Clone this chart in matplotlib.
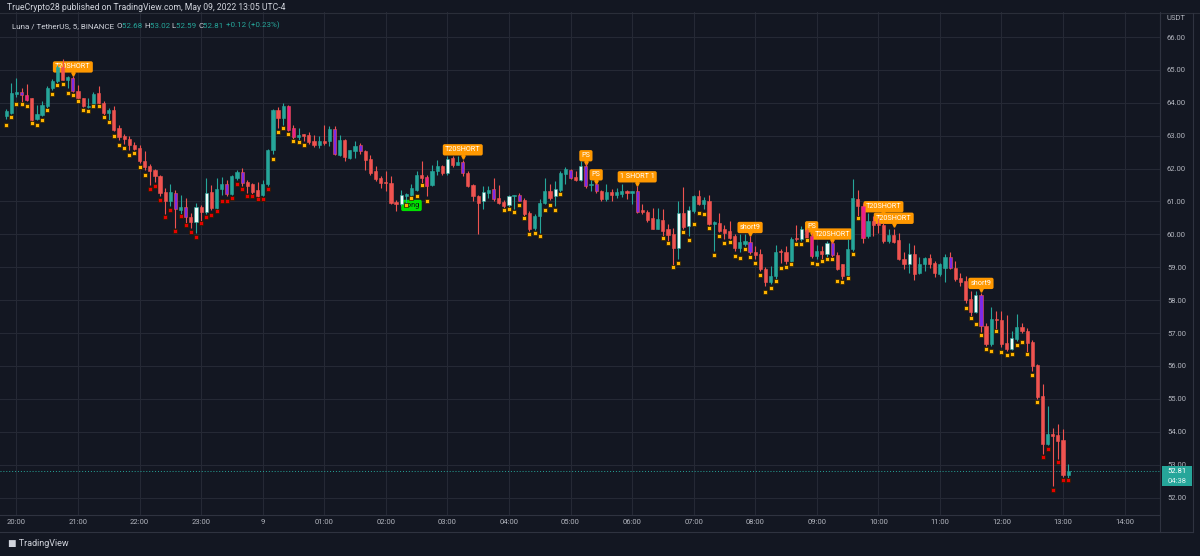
import matplotlib
matplotlib.use("Agg")
import matplotlib.pyplot as plt
from matplotlib.patches import Rectangle
from matplotlib.lines import Line2D
from matplotlib.transforms import offset_copy

plt.rcParams['font.family'] = ['Roboto', 'DejaVu Sans']

# 5-minute bars, index 0 = 20:00 (May 8), first bar is 19:50
first_bar = -2

opens = [63.59, 63.69, 64.26, 64.34, 64.24, 64.14, 63.52, 63.64, 63.89, 64.45, 64.65, 65.10,
         64.70, 64.75, 64.36, 64.14, 63.86, 63.94, 64.29, 63.99, 63.69, 63.79, 63.23, 62.98,
         62.91, 62.73, 62.63, 62.24, 62.07, 61.97, 61.77, 61.28, 61.01, 61.26, 60.73, 60.84,
         60.53, 60.37, 60.83, 60.69, 61.28, 60.81, 61.39, 61.54, 61.24, 61.72, 61.89, 61.60,
         61.52, 61.36, 61.19, 61.52, 62.58, 63.79, 63.54, 63.89, 63.23, 62.95, 63.06, 63.01,
         62.85, 62.73, 62.85, 62.83, 63.21, 62.42, 62.88, 62.32, 62.52, 62.71, 62.52, 62.30,
         61.94, 61.72, 61.60, 61.57, 60.99, 60.91, 61.16, 61.21, 61.36, 61.80, 61.74, 61.49,
         61.92, 62.07, 61.87, 62.32, 62.12, 62.20, 61.87, 61.49, 61.18, 61.01, 61.26, 61.39,
         61.11, 60.98, 60.88, 61.16, 61.21, 61.06, 60.66, 60.18, 60.56, 60.96, 61.33, 61.16,
         61.36, 61.85, 61.97, 61.74, 61.65, 62.07, 61.49, 61.52, 61.31, 61.08, 61.28, 61.21,
         61.24, 61.31, 61.26, 61.31, 60.73, 60.68, 60.50, 60.17, 60.45, 60.15, 60.02, 59.58,
         60.66, 60.25, 60.71, 61.16, 60.93, 61.03, 60.32, 60.35, 60.15, 60.10, 59.95, 59.58,
         59.72, 59.76, 59.45, 59.39, 58.96, 58.54, 58.72, 59.50, 59.45, 59.19, 59.90, 59.85,
         60.13, 59.95, 59.34, 59.50, 59.39, 59.73, 59.36, 59.09, 58.76, 59.55, 61.08, 60.86,
         59.95, 60.40, 60.34, 60.30, 59.80, 59.97, 59.83, 59.26, 59.09, 59.39, 58.82, 59.09,
         59.29, 59.14, 58.79, 58.99, 59.32, 58.99, 58.66, 58.59, 58.03, 57.65, 58.15, 57.23,
         56.67, 57.42, 57.40, 56.70, 56.52, 56.82, 57.17, 57.07, 56.74, 56.03, 55.10, 53.64,
         53.94, 53.89, 53.74, 52.68]

highs = [63.80, 64.60, 64.75, 64.44, 64.57, 64.16, 63.94, 64.04, 64.50, 64.73, 65.15, 65.33,
         64.80, 64.80, 64.54, 64.16, 64.14, 64.34, 64.50, 64.04, 63.84, 63.89, 63.31, 63.05,
         62.98, 62.80, 62.73, 62.52, 62.13, 62.00, 61.82, 61.41, 61.52, 61.36, 61.21, 61.11,
         60.65, 60.96, 60.90, 61.72, 61.49, 61.72, 61.74, 61.64, 61.82, 61.97, 62.01, 61.64,
         61.57, 61.59, 61.64, 62.61, 63.82, 63.86, 63.99, 63.94, 63.31, 63.23, 63.06, 63.11,
         63.01, 62.98, 63.31, 63.28, 63.28, 63.03, 62.91, 62.58, 62.85, 62.78, 62.55, 62.42,
         62.07, 61.77, 61.94, 61.77, 61.06, 61.36, 61.26, 61.52, 61.92, 62.24, 61.82, 62.12,
         62.27, 62.12, 62.38, 62.38, 62.38, 62.27, 61.92, 61.54, 61.21, 61.46, 61.46, 61.72,
         61.49, 61.06, 61.21, 61.21, 61.26, 61.11, 60.71, 60.61, 61.09, 61.72, 61.52, 61.62,
         61.92, 62.05, 62.00, 61.92, 62.22, 62.17, 61.64, 61.57, 61.36, 61.52, 61.38, 61.41,
         61.54, 61.36, 61.33, 61.46, 60.91, 60.73, 60.81, 60.81, 60.76, 60.32, 60.20, 61.01,
         61.45, 60.86, 61.21, 61.36, 61.13, 61.21, 60.42, 60.66, 60.30, 60.40, 60.00, 60.02,
         60.02, 59.95, 59.65, 59.55, 59.00, 59.04, 59.67, 59.57, 59.65, 59.92, 60.30, 60.25,
         60.20, 60.05, 59.67, 59.65, 59.80, 59.80, 59.45, 59.11, 59.85, 61.69, 61.36, 60.95,
         60.66, 60.55, 60.50, 60.36, 60.15, 60.17, 60.03, 59.45, 59.73, 59.67, 59.32, 59.32,
         59.39, 59.20, 59.12, 59.40, 59.45, 59.20, 58.82, 58.72, 58.28, 58.28, 58.23, 57.30,
         57.78, 57.68, 57.68, 57.55, 57.07, 57.58, 57.32, 57.15, 56.78, 56.06, 55.45, 54.79,
         54.11, 54.24, 54.09, 53.02]

lows = [63.50, 63.66, 64.19, 63.90, 64.04, 63.38, 63.48, 63.59, 63.84, 64.40, 64.60, 64.68,
        64.45, 64.33, 64.00, 63.86, 63.83, 63.89, 63.96, 63.64, 63.48, 63.13, 62.88, 62.75,
        62.55, 62.55, 62.17, 61.97, 61.49, 61.60, 61.16, 60.63, 60.86, 60.20, 60.61, 60.35,
        60.20, 60.05, 60.40, 60.61, 60.74, 60.74, 61.21, 61.16, 61.21, 61.64, 61.46, 61.26,
        61.23, 61.11, 61.16, 61.46, 62.45, 63.23, 63.33, 63.13, 62.91, 62.88, 62.85, 62.76,
        62.67, 62.63, 62.71, 62.68, 62.40, 62.38, 62.22, 62.29, 62.32, 62.45, 61.97, 61.82,
        61.62, 61.41, 61.31, 60.91, 60.71, 60.86, 60.86, 61.16, 61.31, 61.57, 61.16, 61.46,
        61.82, 61.82, 61.82, 62.05, 62.10, 61.77, 61.43, 61.01, 60.02, 60.76, 61.11, 61.01,
        60.91, 60.81, 60.81, 60.76, 61.00, 60.56, 60.10, 60.12, 60.05, 60.91, 61.06, 60.86,
        61.26, 61.52, 61.67, 61.62, 61.62, 61.41, 61.31, 61.26, 61.01, 61.01, 61.01, 61.12,
        61.15, 61.08, 60.91, 60.64, 60.61, 60.39, 60.15, 60.15, 59.85, 59.72, 59.07, 59.24,
        60.15, 59.95, 60.66, 60.89, 60.76, 60.28, 59.50, 60.08, 59.85, 59.85, 59.50, 59.45,
        59.65, 59.39, 59.24, 58.89, 58.43, 58.48, 58.64, 59.12, 59.09, 59.15, 59.80, 59.80,
        59.80, 59.29, 59.24, 59.19, 59.27, 59.29, 58.91, 58.64, 58.72, 59.50, 60.45, 59.75,
        59.90, 59.95, 60.05, 59.73, 59.73, 59.73, 59.22, 58.96, 58.84, 58.61, 58.79, 58.89,
        58.99, 58.69, 58.73, 58.56, 58.94, 58.58, 58.43, 57.91, 57.52, 57.61, 57.02, 56.60,
        56.60, 57.02, 56.57, 56.46, 56.48, 56.77, 57.00, 56.41, 55.86, 55.00, 53.33, 53.61,
        52.35, 53.18, 52.63, 52.59]

closes = [63.74, 64.29, 64.32, 64.24, 64.09, 63.48, 63.66, 63.94, 64.45, 64.65, 65.10, 64.70,
          64.77, 64.36, 64.14, 63.89, 63.89, 64.26, 63.99, 63.69, 63.79, 63.18, 62.95, 62.91,
          62.71, 62.61, 62.24, 62.04, 61.94, 61.77, 61.26, 61.01, 61.28, 60.78, 60.83, 60.54,
          60.37, 60.83, 60.69, 61.26, 60.81, 61.39, 61.54, 61.23, 61.77, 61.89, 61.57, 61.46,
          61.29, 61.16, 61.54, 62.58, 63.79, 63.54, 63.89, 63.18, 62.95, 63.01, 62.98, 62.81,
          62.73, 62.83, 62.78, 63.21, 62.45, 62.88, 62.35, 62.55, 62.68, 62.52, 62.27, 61.87,
          61.67, 61.57, 61.57, 60.96, 60.93, 61.19, 61.23, 61.41, 61.80, 61.70, 61.46, 61.94,
          62.07, 61.87, 62.30, 62.10, 62.19, 61.87, 61.46, 61.16, 60.96, 61.29, 61.36, 61.08,
          60.96, 60.86, 61.16, 61.21, 61.03, 60.61, 60.15, 60.56, 60.96, 61.33, 61.11, 61.38,
          61.87, 62.00, 61.72, 61.65, 62.07, 61.46, 61.54, 61.31, 61.08, 61.28, 61.21, 61.28,
          61.31, 61.26, 61.31, 60.68, 60.68, 60.45, 60.17, 60.47, 60.10, 59.98, 59.58, 60.66,
          60.22, 60.73, 61.16, 60.93, 61.06, 60.32, 60.37, 60.10, 60.05, 59.90, 59.58, 59.76,
          59.80, 59.45, 59.37, 58.94, 58.54, 58.74, 59.47, 59.45, 59.19, 59.87, 59.85, 60.15,
          59.90, 59.34, 59.50, 59.39, 59.73, 59.36, 58.96, 58.72, 59.55, 61.11, 60.86, 59.90,
          60.40, 60.30, 60.29, 59.80, 59.98, 59.77, 59.24, 59.09, 59.39, 58.79, 59.09, 59.29,
          59.09, 58.82, 59.09, 59.32, 58.99, 58.64, 58.56, 58.01, 57.63, 58.15, 57.20, 56.67,
          57.42, 57.39, 56.67, 56.52, 56.84, 57.17, 57.05, 56.70, 56.01, 55.05, 53.64, 53.94,
          53.87, 53.71, 52.69, 52.81]

# bar indices whose body is painted by the indicator instead of up/down colour
white_bars = [35, 37, 75, 84, 91, 96, 105, 110, 129, 131, 153, 158, 174, 187, 194]
purple_bars = [1, 11, 31, 33, 41, 44, 62, 67, 87, 93, 98, 108, 111, 113, 121, 143, 159,
               182, 188]
magenta_bars = [2, 53, 54, 80, 155, 165]

# square dots under the bars: y = yellow, r = red, . = none
dot_kind = ("y" * 28 + "r" * 24 + "y" * 7 + "." * 19 + "y" * 5 + "." * 14 + "y" * 12
            + "." * 19 + "y" * 39 + "." * 20 + "y" * 15 + "r" * 6)
dot_level = ([63.33, 63.58, 63.96, 63.96, 63.89, 63.40, 63.33, 63.47, 63.79, 64.26, 64.55,
              64.57, 64.31, 64.24, 64.04, 63.77, 63.74, 63.89, 63.89, 63.58, 63.43, 63.00,
              62.73, 62.63, 62.42, 62.48, 62.05, 61.82]
             + [61.38, 61.48, 61.06, 60.53, 60.74, 60.10, 60.55, 60.30, 60.07, 59.93, 60.34,
                60.53, 60.58, 60.71, 61.01, 61.01, 61.11, 61.52, 61.39, 61.16, 61.18, 61.08,
                61.09, 61.38]
             + [62.30, 63.11, 63.23, 63.06, 62.85, 62.80, 62.71]
             + [None] * 19
             + [60.88, 61.12, 61.18, 61.49, 61.01]
             + [None] * 14
             + [60.74, 60.76, 60.67, 60.88, 60.49, 60.00, 60.03, 59.95, 60.74, 60.89, 60.74,
                61.24]
             + [None] * 19
             + [59.88, 59.73, 59.01, 59.12, 60.07, 59.82, 60.32, 60.64, 60.61, 60.18, 59.37,
                59.95, 59.73, 59.76, 59.34, 59.27, 59.55, 59.32, 59.12, 58.77, 58.26, 58.36,
                58.57, 58.99, 59.02, 59.09, 59.70, 59.70, 59.82, 59.12, 59.09, 59.18, 59.26,
                59.26, 58.57, 58.55, 58.66, 59.39, 60.50]
             + [None] * 20
             + [57.75, 57.45, 57.27, 56.94, 56.53, 56.46, 57.07, 56.44, 56.33, 56.36, 56.65,
                56.74, 56.35, 55.73, 54.92]
             + [53.23, 53.48, 52.24, 53.08, 52.53, 52.53])

# signal labels: bar index, centre price, text
label_bars = [11, 87, 77, 111, 113, 121, 143, 155, 159, 169, 171, 188]
label_levels = [65.09, 62.57, 60.88, 62.39, 61.81, 61.75, 60.21, 60.23, 60.01, 60.84, 60.49, 58.51]
label_texts = ['T20SHORT', 'T20SHORT', 'Long', 'PS', 'PS', '1 SHORT 1', 'short9', 'PS',
               'T20SHORT', 'T20SHORT', 'T20SHORT', 'short9']

time_ticks = list(range(0, 217, 12))
time_labels = ['20:00', '21:00', '22:00', '23:00', '9', '01:00', '02:00', '03:00', '04:00',
               '05:00', '06:00', '07:00', '08:00', '09:00', '10:00', '11:00', '12:00',
               '13:00', '14:00']
price_ticks = list(range(52, 67))

BG = '#131722'
GRID = '#252935'
TXT = '#b2b5be'
UP = '#26a69a'
DOWN = '#ef5350'
YELLOW = '#ffb300'
RED = '#e60000'
ORANGE = '#ff9800'
GREEN = '#00e000'

fig = plt.figure(figsize=(12, 5.56), dpi=100, facecolor=BG)
ax = fig.add_axes([0, 41 / 556, 1160 / 1200, 503 / 556])
ax.set_facecolor(BG)

xs = list(range(first_bar, first_bar + len(opens)))
wick_cols, faces, bottoms, heights = [], [], [], []
for x, o, c in zip(xs, opens, closes):
    col = UP if c >= o else DOWN
    wick_cols.append(col)
    if x in white_bars:
        faces.append('#eefcf9')
    elif x in purple_bars:
        faces.append('#7d2ae8')
    elif x in magenta_bars:
        faces.append('#e91e8c')
    else:
        faces.append(col)
    bottoms.append(min(o, c))
    heights.append(max(abs(c - o), 0.025))

ax.vlines(xs, lows, highs, colors=wick_cols, linewidth=0.8, zorder=3)
ax.bar(xs, heights, bottom=bottoms, width=0.62, color=faces, edgecolor=wick_cols,
       linewidth=0.4, zorder=4)

for kind, col in (('y', YELLOW), ('r', RED)):
    dx = [x for x, k in zip(xs, dot_kind) if k == kind]
    dy = [v for v, k in zip(dot_level, dot_kind) if k == kind]
    ax.scatter(dx, dy, marker='s', s=7, c=col, edgecolors='#2a1d00', linewidths=0.5, zorder=5)

# labels with their little pointer
below = offset_copy(ax.transData, fig=fig, y=-5, units='points')
above = offset_copy(ax.transData, fig=fig, y=5, units='points')
for bx, lv, txt in zip(label_bars, label_levels, label_texts):
    if txt == 'Long':
        fc, tc, tr, mk = GREEN, '#0b0e14', above, '^'
    else:
        fc, tc, tr, mk = ORANGE, 'white', below, 'v'
    ax.text(bx, lv, txt, ha='center', va='center', fontsize=5.2, color=tc, zorder=2,
            bbox=dict(boxstyle='round,pad=0.3,rounding_size=0.25', fc=fc, ec='none'))
    ax.plot([bx], [lv], marker=mk, markersize=2.5, color=fc, transform=tr, zorder=2,
            linestyle='none')

# last price line and badge
last = closes[-1]
ax.axhline(last, color=UP, linestyle=(0, (1, 2)), linewidth=0.7, zorder=2)
ax.add_patch(Rectangle((1 + 2 / 1160, last - 0.46), 30 / 1160, 0.61,
                       transform=ax.get_yaxis_transform(), facecolor=UP, edgecolor='none',
                       clip_on=False, zorder=6))
ax.text(1 + 17 / 1160, last, f'{last:.2f}', transform=ax.get_yaxis_transform(),
        ha='center', va='center', fontsize=5.5, color='white', zorder=7, clip_on=False)
ax.text(1 + 17 / 1160, last - 0.31, '04:38', transform=ax.get_yaxis_transform(),
        ha='center', va='center', fontsize=5.5, color='#e0f2f1', zorder=7, clip_on=False)

ax.set_xlim(-3.2, 222.9)
ax.set_ylim(51.47, 66.76)
ax.set_xticks(time_ticks, time_labels)
ax.yaxis.tick_right()
ax.set_yticks(price_ticks, [f'{p:.2f}' for p in price_ticks])
ax.tick_params(axis='x', length=0, pad=3, labelsize=5.5, colors=TXT)
ax.tick_params(axis='y', length=0, pad=5, labelsize=5.5, colors=TXT)
ax.grid(color=GRID, linewidth=0.8, zorder=0)
ax.set_axisbelow(True)
for side in ('left', 'top'):
    ax.spines[side].set_visible(False)
for side in ('right', 'bottom'):
    ax.spines[side].set_color('#2f3340')
    ax.spines[side].set_linewidth(0.8)

fig.text(1176 / 1200, 1 - 18 / 556, 'USDT', ha='center', va='center', fontsize=5.5, color=TXT)

# header
fig.text(7 / 1200, 1 - 7 / 556, 'TrueCrypto28 published on TradingView.com, May 09, 2022 13:05 UTC-4',
         ha='left', va='center', fontsize=6.2, color='#d1d4dc')
fig.add_artist(Line2D([0, 1], [1 - 12.5 / 556] * 2, color='#2a2e39', linewidth=0.8))

chg = closes[-1] - closes[-2]
pieces = [('Luna / TetherUS, 5, BINANCE ', '#d1d4dc'), ('O', '#d1d4dc'), (f'{opens[-1]:.2f} ', UP),
          ('H', '#d1d4dc'), (f'{highs[-1]:.2f} ', UP), ('L', '#d1d4dc'), (f'{lows[-1]:.2f} ', UP),
          ('C', '#d1d4dc'), (f'{closes[-1]:.2f} ', UP),
          (f'{chg:+.2f} ({chg / closes[-2] * 100:+.2f}%)', UP)]
prev = fig.text(12 / 1200, 1 - 29 / 556, pieces[0][0], ha='left', va='bottom',
                fontsize=5.8, color=pieces[0][1])
for s, col in pieces[1:]:
    prev = ax.annotate(s, xy=(1, 0), xycoords=prev, ha='left', va='bottom',
                       fontsize=5.8, color=col, annotation_clip=False)

# widget borders and footer
fig.add_artist(Line2D([1160 / 1200] * 2, [1 - 532 / 556, 1 - 12.5 / 556], color='#2f3340', linewidth=0.8))
fig.add_artist(Line2D([0, 1193 / 1200], [1 - 532 / 556] * 2, color='#2f3340', linewidth=0.8))
fig.add_artist(Line2D([1193 / 1200] * 2, [1 - 532 / 556, 1 - 12.5 / 556], color='#2f3340', linewidth=0.8))
fig.text(8 / 1200, 1 - 544 / 556, '\u25A0 TradingView', ha='left', va='center', fontsize=6.5,
         color='#d1d4dc')

fig.savefig('out.png', dpi=100, facecolor=BG)
